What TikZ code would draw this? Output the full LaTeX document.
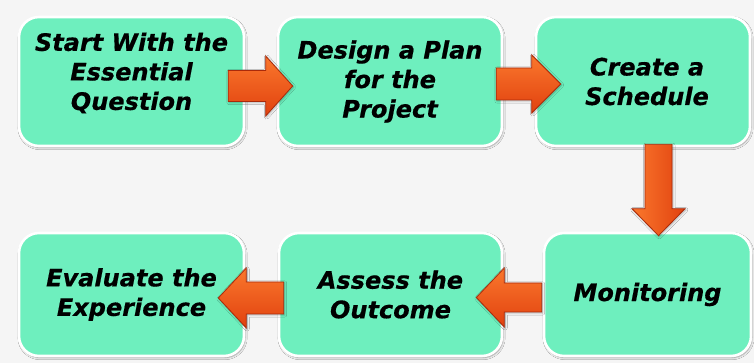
\documentclass[tikz,border=0pt]{standalone}
\usepackage{fontspec}
\setmainfont{DejaVu Sans}[BoldItalicFeatures={FakeBold=0.5}]
\usetikzlibrary{calc,shadows.blur}
\definecolor{mint}{RGB}{110,239,190}
\definecolor{bgc}{RGB}{245,245,245}
\definecolor{arrA}{RGB}{250,120,45}
\definecolor{arrB}{RGB}{225,65,15}
\definecolor{arrEdge}{RGB}{170,42,10}
\newcommand\blockarrow[6]{%
  \coordinate (hb) at ($(#2)!#5!(#1)$);
  \shade[arrowbody,#6]
    ($(#1)!#3!90:(#2)$) -- ($(hb)!#3!90:(#2)$) -- ($(hb)!#4!90:(#2)$) -- (#2)
    -- ($(hb)!#4!-90:(#2)$) -- ($(hb)!#3!-90:(#2)$) -- ($(#1)!#3!-90:(#2)$) -- cycle;}
\begin{document}
\begin{tikzpicture}[x=1pt,y=1pt,
  box/.style={rounded corners=20pt, fill=mint, draw=white, line width=2.6pt,
    blur shadow={shadow xshift=1pt, shadow yshift=-1.5pt, shadow blur steps=6, shadow opacity=40},
    font=\fontsize{24}{29.5}\selectfont\bfseries\itshape, align=center, inner sep=0pt, text=black},
  arrowbody/.style={draw=arrEdge, line width=0.8pt, line join=miter,
    blur shadow={shadow xshift=0.8pt, shadow yshift=-1pt, shadow blur steps=4, shadow opacity=30}}]
\fill[bgc] (0,0) rectangle (754,363);
\useasboundingbox (0,0) rectangle (754,363);
% top row
\node[box, minimum width=225pt, minimum height=129pt] (s1) at (131.5,281.5)
  {\raisebox{7pt}[\height][\depth]{\begin{tabular}{@{}c@{}}Start With the\\Essential\\Question\end{tabular}}};
\node[box, minimum width=224pt, minimum height=129pt] (s2) at (390,281.5)
  {Design a Plan\\for the\\Project};
\node[box, minimum width=214pt, minimum height=129pt] (s3) at (643,281.5)
  {\hspace*{8pt}Create a\\\hspace*{8pt}Schedule};
% bottom row
\node[box, minimum width=207pt, minimum height=123pt] (s4) at (647.5,68.5) {Monitoring};
\node[box, minimum width=223pt, minimum height=123pt] (s5) at (390.5,68.5) {Assess the\\Outcome};
\node[box, minimum width=225pt, minimum height=123pt] (s6) at (131.5,68.5) {Evaluate the\\Experience};
% connector end points
\coordinate (a1s) at ($(s1.east)+(-17,-4.5)$);
\coordinate (a1t) at ($(s2.west)+(16,-4.5)$);
\coordinate (a2s) at ($(s2.east)+(-7,-2.5)$);
\coordinate (a2t) at ($(s3.west)+(26,-2.5)$);
\coordinate (a3s) at ($(s3.south)+(15.5,3)$);
\coordinate (a3t) at ($(s4.north)+(11,-4)$);
\coordinate (a4s) at ($(s4.west)+(-1,-3)$);
\coordinate (a4t) at ($(s5.east)+(-27,-3)$);
\coordinate (a5s) at ($(s5.west)+(6,-3.5)$);
\coordinate (a5t) at ($(s6.east)+(-27,-3.5)$);
\blockarrow{a1s}{a1t}{15.5pt}{30pt}{27pt}{top color=arrA, bottom color=arrB}
\blockarrow{a2s}{a2t}{16pt}{29pt}{29pt}{top color=arrA, bottom color=arrB}
\blockarrow{a3s}{a3t}{13.5pt}{26.5pt}{27pt}{left color=arrA, right color=arrB}
\blockarrow{a4s}{a4t}{14.5pt}{29.5pt}{28pt}{top color=arrA, bottom color=arrB}
\blockarrow{a5s}{a5t}{16pt}{30pt}{28pt}{top color=arrA, bottom color=arrB}
\end{tikzpicture}
\end{document}
